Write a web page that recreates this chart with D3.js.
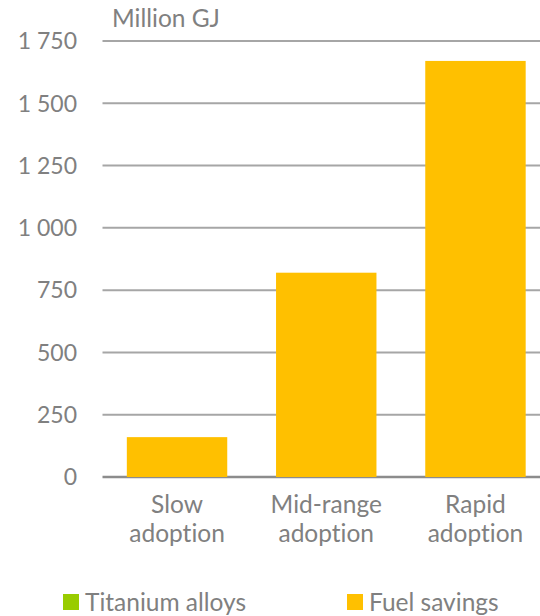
<!DOCTYPE html>
<html><head><meta charset="utf-8">
<script src="https://cdn.jsdelivr.net/npm/d3@7"></script>
<style>body{margin:0;background:#fff}svg{display:block}text{font-variant-ligatures:none;font-feature-settings:"liga" 0,"clig" 0}</style>
</head><body>
<script>
const categories = [["Slow","adoption"],["Mid-range","adoption"],["Rapid","adoption"]];
const categoryKeys = ["Slow adoption","Mid-range adoption","Rapid adoption"];
const titaniumAlloys = [0, 0, 0];
const fuelSavings = [160, 820, 1670];
const yTicks = [0, 250, 500, 750, 1000, 1250, 1500, 1750];
const seriesNames = ["Titanium alloys","Fuel savings"];
const seriesColors = ["#99CC00","#FFC000"];

const W = 540, H = 616;
const svg = d3.select("body").append("svg").attr("width", W).attr("height", H);
const font = "Lato, 'Open Sans', sans-serif";
const fsNum = "23px", fsTxt = "24.5px";
const grey = "#808080";

const y = d3.scaleLinear().domain([0, 1750]).range([477, 41]);
const x = d3.scaleBand().domain(categoryKeys).range([102.5, 550]).paddingInner(0.327).paddingOuter(0.163);

// gridlines
svg.append("g").selectAll("line").data(yTicks).join("line")
  .attr("x1", 102.5).attr("x2", W)
  .attr("y1", d => y(d)).attr("y2", d => y(d))
  .attr("stroke", d => d === 0 ? "#8C8C8C" : "#A6A6A6")
  .attr("stroke-width", d => d === 0 ? 2.5 : 2);

// y tick labels
svg.append("g").selectAll("text").data(yTicks).join("text")
  .attr("x", 77).attr("y", d => y(d)).attr("dy", "0.36em")
  .attr("text-anchor", "end").attr("fill", grey)
  .style("font-family", font).style("font-size", fsNum)
  .text(d => d3.format(",")(d).replace(/,/g, " "));

// unit label
svg.append("text").attr("x", 112).attr("y", 27)
  .attr("fill", grey).style("font-family", font).style("font-size", fsTxt)
  .text("Million GJ");

// stacked bars
const stackData = categoryKeys.map((k, i) => ({key: k, t: titaniumAlloys[i], f: fuelSavings[i]}));
const stack = d3.stack().keys(["t", "f"])(stackData);
svg.append("g").selectAll("g").data(stack).join("g")
  .attr("fill", (d, i) => seriesColors[i])
  .selectAll("rect").data(d => d).join("rect")
  .attr("x", d => x(d.data.key)).attr("width", x.bandwidth())
  .attr("y", d => y(d[1])).attr("height", d => Math.max(0, y(d[0]) - y(d[1])));

// category labels
const cl = svg.append("g").selectAll("text").data(categories).join("text")
  .attr("x", (d, i) => x(categoryKeys[i]) + x.bandwidth() / 2)
  .attr("y", 513).attr("text-anchor", "middle").attr("fill", grey)
  .style("font-family", font).style("font-size", fsTxt);
cl.selectAll("tspan").data(d => d).join("tspan")
  .attr("x", function(){ return this.parentNode.getAttribute("x"); })
  .attr("dy", (d, i) => i === 0 ? 0 : 29).text(d => d);

// legend
const legX = [63, 347];
const lg = svg.append("g").selectAll("g").data(seriesNames).join("g")
  .attr("transform", (d, i) => `translate(${legX[i]},594)`);
lg.append("rect").attr("width", 16).attr("height", 16).attr("fill", (d, i) => seriesColors[i]);
lg.append("text").attr("x", 22).attr("y", 8).attr("dy", "0.36em")
  .attr("fill", grey).style("font-family", font).style("font-size", fsTxt).text(d => d);
</script>
</body></html>
